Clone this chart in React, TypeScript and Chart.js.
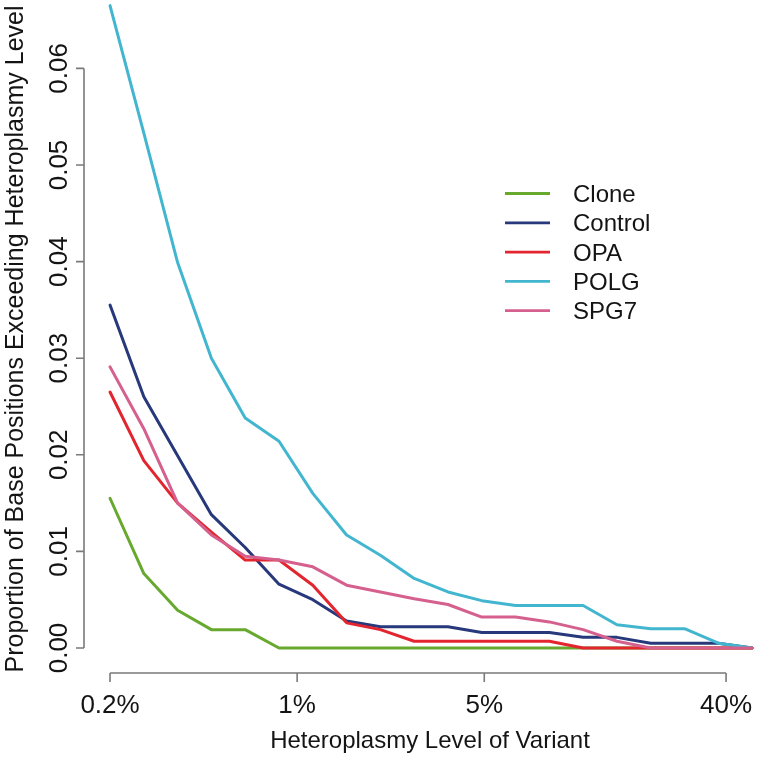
import React, { useEffect, useRef } from 'react';
import { Chart, registerables } from 'chart.js';

Chart.register(...registerables);

// Heteroplasmy levels (%) of the 20 evaluated thresholds (log-spaced 0.2% .. 50%)
const levels = [0.2, 0.2675, 0.3577, 0.4783, 0.6397, 0.8555, 1.144, 1.53, 2.046, 2.736, 3.659, 4.894, 6.544, 8.752, 11.7, 15.65, 20.93, 27.99, 37.44, 50.0];

const seriesNames = ['Clone', 'Control', 'OPA', 'POLG', 'SPG7'];
const seriesColors = ['#67a92f', '#27387b', '#e2252f', '#43b6cf', '#d5608d'];

const clone = [0.0155, 0.0077, 0.0039, 0.0019, 0.0019, 0, 0, 0, 0, 0, 0, 0, 0, 0, 0, 0, 0, 0, 0, 0];
const control = [0.0355, 0.026, 0.0199, 0.0138, 0.0104, 0.0066, 0.005, 0.0028, 0.0022, 0.0022, 0.0022, 0.0016, 0.0016, 0.0016, 0.0011, 0.0011, 0.0005, 0.0005, 0.0005, 0];
const opa = [0.0265, 0.0194, 0.015, 0.012, 0.0091, 0.0091, 0.0065, 0.0026, 0.0019, 0.0007, 0.0007, 0.0007, 0.0007, 0.0007, 0, 0, 0, 0, 0, 0];
const polg = [0.0665, 0.0533, 0.0399, 0.03, 0.0238, 0.0214, 0.016, 0.0117, 0.0096, 0.0072, 0.0058, 0.0049, 0.0044, 0.0044, 0.0044, 0.0024, 0.002, 0.002, 0.0005, 0];
const spg7 = [0.0291, 0.0227, 0.015, 0.0117, 0.0095, 0.0091, 0.0084, 0.0065, 0.0058, 0.0051, 0.0045, 0.0032, 0.0032, 0.0027, 0.0019, 0.0007, 0, 0, 0, 0];

const seriesValues = [clone, control, opa, polg, spg7];

const xTickValues = [0.2, 1, 5, 40];
const xTickLabels = ['0.2%', '1%', '5%', '40%'];
const yTickValues = [0, 0.01, 0.02, 0.03, 0.04, 0.05, 0.06];
const yTickLabels = ['0.00', '0.01', '0.02', '0.03', '0.04', '0.05', '0.06'];

const xTitle = 'Heteroplasmy Level of Variant';
const yTitle = 'Proportion of Base Positions Exceeding Heteroplasmy Level';

const FONT = '"Liberation Sans", Arial, Helvetica, sans-serif';

const rPlugin = {
  id: 'rStyleAxes',
  afterDraw(chart: any) {
    const ctx = chart.ctx as CanvasRenderingContext2D;
    const xs = chart.scales.x;
    const ys = chart.scales.y;
    const area = chart.chartArea;
    ctx.save();

    // Y axis
    const yAxisX = area.left;
    const yTop = ys.getPixelForValue(yTickValues[yTickValues.length - 1]);
    const yBot = ys.getPixelForValue(yTickValues[0]);
    ctx.strokeStyle = '#7a7a7a';
    ctx.lineWidth = 1.6;
    ctx.beginPath();
    ctx.moveTo(yAxisX, yTop);
    ctx.lineTo(yAxisX, yBot);
    yTickValues.forEach((v) => {
      const py = ys.getPixelForValue(v);
      ctx.moveTo(yAxisX, py);
      ctx.lineTo(yAxisX - 8, py);
    });
    ctx.stroke();

    ctx.fillStyle = '#141414';
    ctx.font = `26px ${FONT}`;
    ctx.textAlign = 'center';
    ctx.textBaseline = 'alphabetic';
    yTickValues.forEach((v, i) => {
      const py = ys.getPixelForValue(v);
      ctx.save();
      ctx.translate(66.5, py);
      ctx.rotate(-Math.PI / 2);
      ctx.fillText(yTickLabels[i], 0, 0);
      ctx.restore();
    });

    // X axis
    const xAxisY = area.bottom;
    const xl = xs.getPixelForValue(xTickValues[0]);
    const xr = xs.getPixelForValue(xTickValues[xTickValues.length - 1]);
    ctx.beginPath();
    ctx.moveTo(xl, xAxisY);
    ctx.lineTo(xr, xAxisY);
    xTickValues.forEach((v) => {
      const px = xs.getPixelForValue(v);
      ctx.moveTo(px, xAxisY);
      ctx.lineTo(px, xAxisY + 9);
    });
    ctx.stroke();
    xTickValues.forEach((v, i) => {
      const px = xs.getPixelForValue(v);
      ctx.fillText(xTickLabels[i], px, 713);
    });

    // Titles
    ctx.font = `24px ${FONT}`;
    ctx.fillText(xTitle, 430, 748);
    ctx.save();
    ctx.font = `25px ${FONT}`;
    ctx.translate(23, 339);
    ctx.rotate(-Math.PI / 2);
    ctx.fillText(yTitle, 0, 0);
    ctx.restore();

    // Legend
    ctx.font = `24px ${FONT}`;
    ctx.textAlign = 'left';
    seriesNames.forEach((name, i) => {
      const cy = 193.5 + i * 29.3;
      ctx.strokeStyle = seriesColors[i];
      ctx.lineWidth = 2.8;
      ctx.beginPath();
      ctx.moveTo(505, cy);
      ctx.lineTo(550, cy);
      ctx.stroke();
      ctx.fillStyle = '#141414';
      ctx.fillText(name, 573, cy + 8.6);
    });

    ctx.restore();
  },
};

export default function App() {
  const ref = useRef<HTMLCanvasElement | null>(null);
  useEffect(() => {
    if (!ref.current) return;
    const chart = new Chart(ref.current, {
      type: 'line',
      data: {
        datasets: seriesNames.map((name, i) => ({
          label: name,
          data: levels.map((x, j) => ({ x, y: seriesValues[i][j] })),
          borderColor: seriesColors[i],
          backgroundColor: seriesColors[i],
          borderWidth: 3,
          pointRadius: 0,
          tension: 0,
          fill: false,
          borderJoinStyle: 'round' as const,
          borderCapStyle: 'round' as const,
          order: seriesNames.length - i,
        })),
      },
      options: {
        animation: false,
        responsive: false,
        events: [],
        layout: { padding: { left: 84, top: 0, right: 0, bottom: 86 } },
        plugins: { legend: { display: false }, tooltip: { enabled: false } },
        scales: {
          x: { type: 'logarithmic', min: 0.1599, max: 53.56, bounds: 'data', display: false },
          y: { type: 'linear', min: -0.00259, max: 0.06708, display: false },
        },
      },
      plugins: [rPlugin],
    });
    return () => chart.destroy();
  }, []);
  return (
    <div style={{ position: 'fixed', left: 0, top: 0, width: 760, height: 759, background: '#fff' }}>
      <canvas ref={ref} width={760} height={759} style={{ display: 'block', width: 760, height: 759 }} />
    </div>
  );
}
